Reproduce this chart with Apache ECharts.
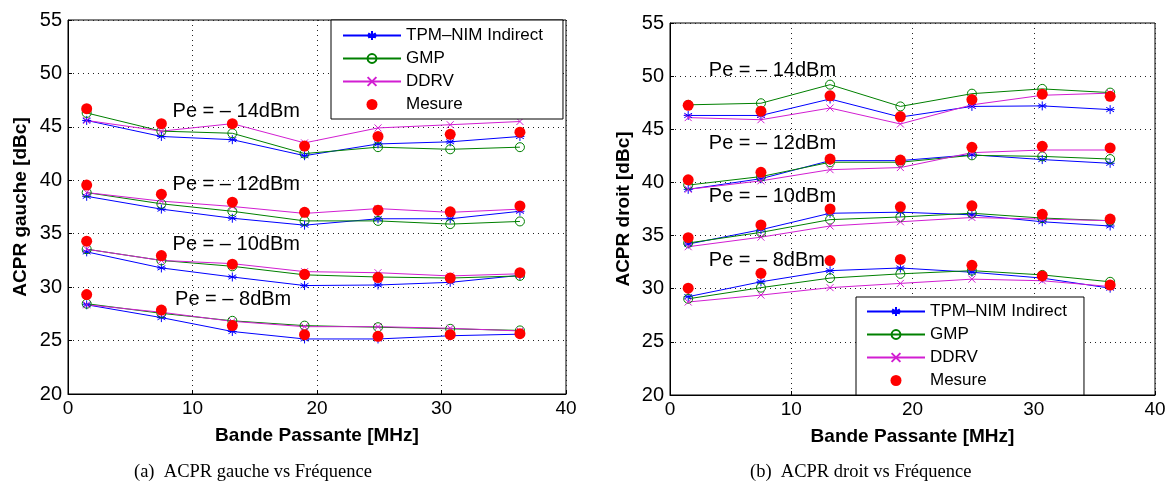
<!DOCTYPE html>
<html>
<head>
<meta charset="utf-8">
<script src="https://cdn.jsdelivr.net/npm/echarts@6/dist/echarts.min.js"></script>
<style>
html,body{margin:0;padding:0;background:#fff;}
#c{width:1175px;height:486px;}
</style>
</head>
<body>
<div id="c"></div>
<script>
// ---------- DATA ----------
const xBand = [1.5, 7.5, 13.2, 19.0, 24.9, 30.7, 36.3];

// Left panel: ACPR gauche
const gTPM14  = [45.6, 44.1, 43.8, 42.3, 43.4, 43.6, 44.1];
const gGMP14  = [46.3, 44.6, 44.4, 42.5, 43.1, 42.9, 43.1];
const gDDRV14 = [45.6, 44.6, 45.3, 43.5, 44.9, 45.2, 45.5];
const gMes14  = [46.7, 45.3, 45.3, 43.2, 44.1, 44.3, 44.5];

const gTPM12  = [38.5, 37.3, 36.45, 35.8, 36.4, 36.4, 37.1];
const gGMP12  = [38.85, 37.8, 37.1, 36.2, 36.2, 35.9, 36.15];
const gDDRV12 = [38.85, 38.05, 37.55, 36.9, 37.35, 37.0, 37.3];
const gMes12  = [39.55, 38.7, 37.95, 37.0, 37.2, 37.05, 37.6];

const gTPM10  = [33.3, 31.8, 30.95, 30.15, 30.2, 30.45, 31.1];
const gGMP10  = [33.55, 32.5, 31.95, 31.15, 30.95, 30.85, 31.05];
const gDDRV10 = [33.55, 32.5, 32.2, 31.45, 31.35, 31.05, 31.25];
const gMes10  = [34.3, 32.95, 32.15, 31.2, 30.9, 30.85, 31.35];

const gTPM8   = [28.35, 27.15, 25.85, 25.15, 25.15, 25.45, 25.6];
const gGMP8   = [28.45, 27.55, 26.85, 26.4, 26.25, 26.1, 25.95];
const gDDRV8  = [28.35, 27.65, 26.8, 26.3, 26.3, 26.15, 25.9];
const gMes8   = [29.3, 27.85, 26.4, 25.55, 25.4, 25.55, 25.65];

// Right panel: ACPR droit
const dTPM14  = [46.3, 46.3, 47.85, 46.15, 47.15, 47.2, 46.85];
const dGMP14  = [47.3, 47.45, 49.2, 47.15, 48.35, 48.8, 48.45];
const dDDRV14 = [46.1, 45.9, 47.0, 45.5, 47.3, 48.2, 48.4];
const dMes14  = [47.25, 46.7, 48.15, 46.2, 47.8, 48.3, 48.1];

const dTPM12  = [39.35, 40.35, 42.05, 42.05, 42.6, 42.15, 41.8];
const dGMP12  = [39.75, 40.55, 41.9, 41.9, 42.55, 42.45, 42.2];
const dDDRV12 = [39.35, 40.15, 41.2, 41.4, 42.8, 43.05, 43.05];
const dMes12  = [40.25, 40.95, 42.2, 42.1, 43.3, 43.4, 43.25];

const dTPM10  = [34.2, 35.55, 37.1, 37.2, 36.95, 36.3, 35.9];
const dGMP10  = [34.3, 35.3, 36.5, 36.75, 37.1, 36.65, 36.4];
const dDDRV10 = [33.95, 34.85, 35.9, 36.3, 36.7, 36.55, 36.4];
const dMes10  = [34.8, 36.0, 37.5, 37.7, 37.8, 37.0, 36.55];

const dTPM8   = [29.25, 30.65, 31.7, 31.95, 31.55, 31.0, 30.05];
const dGMP8   = [29.05, 30.1, 31.0, 31.4, 31.7, 31.3, 30.65];
const dDDRV8  = [28.75, 29.4, 30.1, 30.5, 30.9, 30.75, 30.2];
const dMes8   = [30.05, 31.45, 32.65, 32.75, 32.2, 31.2, 30.35];

// Annotation labels (data coordinates)
const levelText = ['Pe = – 14dBm', 'Pe = – 12dBm', 'Pe = – 10dBm', 'Pe = – 8dBm'];
const leftLabelX  = [8.4, 8.4, 8.4, 8.6];
const leftLabelY  = [46.4, 39.65, 33.95, 28.8];
const rightLabelX = [3.2, 3.2, 3.2, 3.2];
const rightLabelY = [50.5, 43.7, 38.7, 32.7];

const xTicks = [0, 10, 20, 30, 40];
const yTicks = [20, 25, 30, 35, 40, 45, 50, 55];

const seriesNames = ['TPM–NIM Indirect', 'GMP', 'DDRV', 'Mesure'];
const yTitles = ['ACPR gauche [dBc]', 'ACPR droit [dBc]'];
const xTitle = 'Bande Passante [MHz]';
const captions = ['(a)  ACPR gauche vs Fréquence', '(b)  ACPR droit vs Fréquence'];

// ---------- CHART ----------
const SANS = 'Liberation Sans, Arial, sans-serif';
const starPath = 'path://M5 0 L5 10 M0.67 2.5 L9.33 7.5 M9.33 2.5 L0.67 7.5 M0 5 L10 5';
const crossPath = 'path://M0 0 L10 10 M10 0 L0 10';
const CLEAR = 'rgba(0,0,0,0)';
const styles = [
  {color: '#0000ff', symbol: starPath, size: 9, fill: '#0000ff'},
  {color: '#008000', symbol: 'circle', size: 9, fill: CLEAR},
  {color: '#d21ed2', symbol: crossPath, size: 7, fill: '#d21ed2'}
];

const panels = [
  [[gTPM14, gGMP14, gDDRV14, gMes14], [gTPM12, gGMP12, gDDRV12, gMes12], [gTPM10, gGMP10, gDDRV10, gMes10], [gTPM8, gGMP8, gDDRV8, gMes8]],
  [[dTPM14, dGMP14, dDDRV14, dMes14], [dTPM12, dGMP12, dDDRV12, dMes12], [dTPM10, dGMP10, dDDRV10, dMes10], [dTPM8, dGMP8, dDDRV8, dMes8]]
];
const labelPos = [[leftLabelX, leftLabelY], [rightLabelX, rightLabelY]];

const pair = vals => xBand.map((x, i) => [x, vals[i]]);

const series = [];
panels.forEach((levels, p) => {
  levels.forEach(lv => {
    for (let m = 0; m < 3; m++) {
      const st = styles[m];
      series.push({
        type: 'line', name: seriesNames[m], xAxisIndex: p, yAxisIndex: p,
        data: pair(lv[m]), symbol: st.symbol, symbolSize: st.size, showSymbol: true,
        lineStyle: {color: st.color, width: 1},
        itemStyle: {color: st.fill, borderColor: st.color, borderWidth: 1, opacity: 1},
        emphasis: {disabled: true}, animation: false, z: 2
      });
    }
  });
  levels.forEach(lv => {
    series.push({
      type: 'scatter', name: seriesNames[3], xAxisIndex: p, yAxisIndex: p,
      data: pair(lv[3]), symbol: 'circle', symbolSize: 11,
      itemStyle: {color: '#ff0000', opacity: 1}, emphasis: {disabled: true}, animation: false, z: 3
    });
  });
  const [lx, ly] = labelPos[p];
  series.push({
    type: 'scatter', name: 'labels' + p, xAxisIndex: p, yAxisIndex: p, silent: true,
    data: levelText.map((t, i) => ({value: [lx[i], ly[i]], name: t})),
    symbolSize: 0, animation: false, z: 4, itemStyle: {opacity: 1},
    label: {show: true, position: 'right', distance: 0, formatter: d => d.name,
      fontFamily: SANS, fontSize: 20, color: '#000', opacity: 1}
  });
});

const grids = [
  {left: 68, top: 20, width: 498, height: 374},
  {left: 670, top: 23, width: 485, height: 372}
];

function xAxisCfg(i) {
  return {
    type: 'value', gridIndex: i, min: xTicks[0], max: xTicks[xTicks.length - 1], interval: 10,
    name: xTitle, nameLocation: 'middle', nameGap: 32,
    nameTextStyle: {fontFamily: SANS, fontWeight: 'bold', fontSize: 19, color: '#000'},
    axisLine: {show: true, onZero: false, lineStyle: {color: '#000', width: 1}},
    axisTick: {show: true, inside: true, length: 4, lineStyle: {color: '#000'}},
    axisLabel: {fontFamily: SANS, fontSize: 19, color: '#000', margin: 5},
    splitLine: {show: true, lineStyle: {color: '#222', type: [1, 4], width: 1}}
  };
}
function yAxisCfg(i, gap) {
  return {
    type: 'value', gridIndex: i, min: yTicks[0], max: yTicks[yTicks.length - 1], interval: 5,
    name: yTitles[i], nameLocation: 'middle', nameGap: gap,
    nameTextStyle: {fontFamily: SANS, fontWeight: 'bold', fontSize: 19, color: '#000'},
    axisLine: {show: true, onZero: false, lineStyle: {color: '#000', width: 1}},
    axisTick: {show: true, inside: true, length: 4, lineStyle: {color: '#000'}},
    axisLabel: {fontFamily: SANS, fontSize: 20, color: '#000', margin: 6},
    splitLine: {show: true, lineStyle: {color: '#222', type: [1, 4], width: 1}}
  };
}

function legendCfg(pos) {
  return Object.assign({
    orient: 'vertical', data: seriesNames,
    backgroundColor: '#fff', borderColor: '#000', borderWidth: 1,
    itemWidth: 58, itemHeight: 11, itemGap: 6,
    textStyle: {fontFamily: SANS, fontSize: 17, color: '#000'},
    selectedMode: false, z: 10
  }, pos);
}

const chart = echarts.init(document.getElementById('c'), null, {renderer: 'canvas'});
chart.setOption({
  backgroundColor: '#fff',
  animation: false,
  grid: grids.map(g => Object.assign({show: true, borderColor: '#000', borderWidth: 1, backgroundColor: 'transparent'}, g)),
  xAxis: [xAxisCfg(0), xAxisCfg(1)],
  yAxis: [yAxisCfg(0, 38), yAxisCfg(1, 37)],
  legend: [
    legendCfg({left: 331, top: 20, padding: [7, 20, 6, 11]}),
    legendCfg({left: 856, top: 297, padding: [6, 17, 6, 10]})
  ],
  graphic: [
    {type: 'text', left: 250 - 116, top: 463, style: {text: captions[0], font: '18.5px "Liberation Serif", serif', fill: '#000'}},
    {type: 'text', left: 859 - 109, top: 463, style: {text: captions[1], font: '18.5px "Liberation Serif", serif', fill: '#000'}}
  ],
  series: series
});
</script>
</body>
</html>
